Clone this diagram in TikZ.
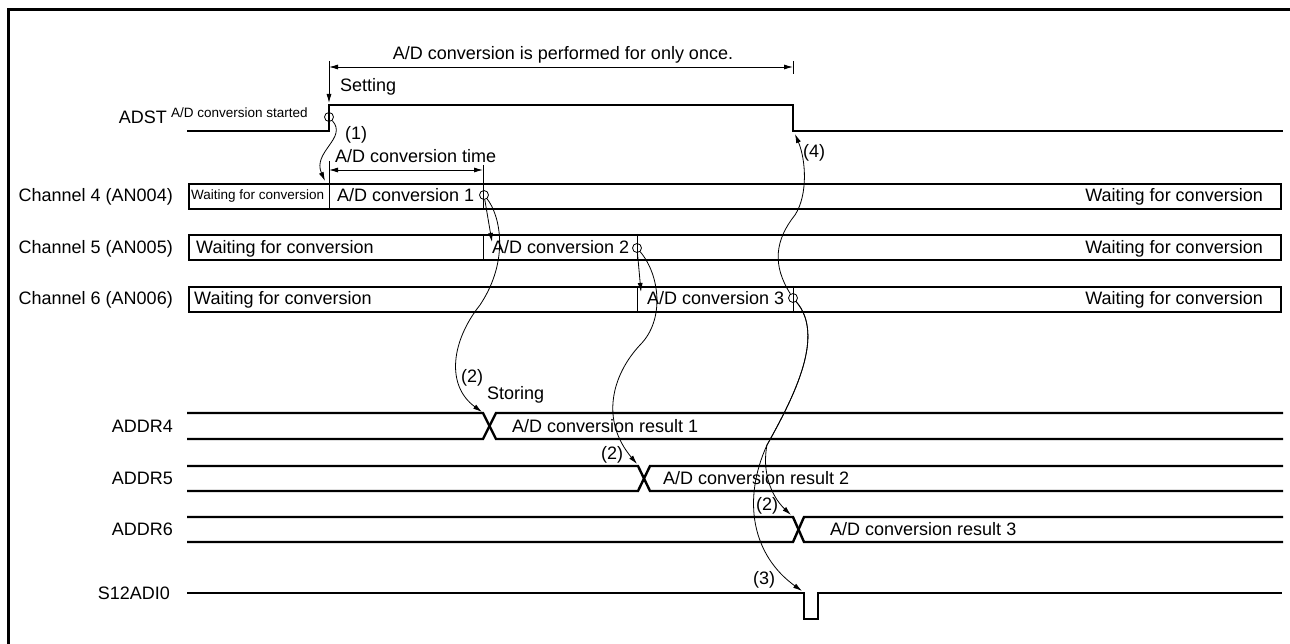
\documentclass[tikz,border=0pt]{standalone}
\usepackage{fontspec}
\setmainfont{Liberation Sans}
\usetikzlibrary{arrows.meta,positioning}
\tikzset{
  sigline/.style={line width=2.4pt, line join=miter},
  thinline/.style={line width=0.8pt},
  chbox/.style={draw, line width=2.4pt, minimum height=25pt,
    minimum width=1092pt, inner sep=0pt, anchor=north west},
  txt/.style={font=\fontsize{18}{20}\selectfont, inner sep=0pt},
  smalltxt/.style={font=\fontsize{13.5}{15}\selectfont, inner sep=0pt},
  dot/.style={draw, circle, line width=0.8pt, minimum size=9pt, inner sep=0pt},
  arr/.style={-{Latex[length=9pt,width=5pt]}, line width=0.8pt},
  darr/.style={{Latex[length=9pt,width=5pt]}-{Latex[length=9pt,width=5pt]}, line width=0.8pt},
}

\begin{document}
\begin{tikzpicture}[x=1pt,y=-1pt]
  \useasboundingbox (0,0) rectangle (1290,644);
  % frame
  \draw[line width=3pt] (8,644) -- (8,10) -- (1290,10);

  % ADST
  \node[txt, anchor=base east] (adst) at (167,123.5) {ADST};
  \node[smalltxt, anchor=base west] (started) at (171,118) {A/D conversion started};
  \draw[sigline] (187,131) -- (329,131) -- (329,105) -- (793,105) -- (793,131) -- (1283,131);
  \node[dot] (c0) at (329,117) {};

  % once / setting
  \coordinate (dimL) at (329,67);
  \coordinate (dimR) at (793,67);
  \coordinate (setTop) at (329,61);
  \coordinate (setBot) at (329,103);
  \draw[darr] (dimL) -- (dimR);
  \draw[thinline] (793,61) -- (793,74);
  \draw[arr] (setTop) -- (setBot);
  \node[txt, anchor=base] (once) at (563,59.5) {A/D conversion is performed for only once.};
  \node[txt, anchor=base west] (setting) at (340,91.5) {Setting};

  % conversion time
  \coordinate (timeL) at (329,170);
  \coordinate (timeR) at (483,170);
  \draw[darr] (timeL) -- (timeR);
  \draw[thinline] (483,165) -- (483,183);
  \node[txt, anchor=base west] (convtime) at (335,162.5) {A/D conversion time};
  \node[txt, anchor=base west] (n1) at (345,139.7) {(1)};

  % Channel 4
  \node[txt, anchor=base east] (ch4lbl) at (173,201.5) {Channel 4 (AN004)};
  \node[chbox] (ch4) at (188,183) {};
  \draw[thinline] (329,161) -- (329,208);
  \draw[thinline] (483,183) -- (483,208);
  \node[smalltxt, anchor=base west] (ch4w) at (191,200) {Waiting for conversion};
  \node[txt, anchor=base west] (ch4c) at (337,201.5) {A/D conversion 1};
  \node[txt, anchor=base east] (ch4r) at (1263,201.5) {Waiting for conversion};
  \node[dot] (c1) at (484,195) {};

  % Channel 5
  \node[txt, anchor=base east] (ch5lbl) at (173,253.5) {Channel 5 (AN005)};
  \node[chbox] (ch5) at (188,234) {};
  \draw[thinline] (483,234) -- (483,259);
  \draw[thinline] (637,234) -- (637,259);
  \node[txt, anchor=base west] (ch5w) at (196,253.5) {Waiting for conversion};
  \node[txt, anchor=base west] (ch5c) at (492,253.5) {A/D conversion 2};
  \node[txt, anchor=base east] (ch5r) at (1263,253.5) {Waiting for conversion};
  \node[dot] (c2) at (637,248) {};

  % Channel 6
  \node[txt, anchor=base east] (ch6lbl) at (173,304.5) {Channel 6 (AN006)};
  \node[chbox] (ch6) at (188,286) {};
  \draw[thinline] (637,286) -- (637,311);
  \draw[thinline] (793,286) -- (793,311);
  \node[txt, anchor=base west] (ch6w) at (194,304.5) {Waiting for conversion};
  \node[txt, anchor=base west] (ch6c) at (647,304.5) {A/D conversion 3};
  \node[txt, anchor=base east] (ch6r) at (1263,304.5) {Waiting for conversion};
  \node[dot] (c3) at (793,298) {};

  % ADDR4
  \node[txt, anchor=base east] (addr4) at (173,432.5) {ADDR4};
  \draw[sigline] (187,413) -- (483,413) -- (496,439) -- (1283,439);
  \draw[sigline] (187,439) -- (483,439) -- (496,413) -- (1283,413);
  \node[txt, anchor=base west] (res1) at (512,432.5) {A/D conversion result 1};
  \node[txt, anchor=base west] (storing) at (487,399.5) {Storing};

  % ADDR5
  \node[txt, anchor=base east] (addr5) at (173,484.5) {ADDR5};
  \draw[sigline] (187,466) -- (638,466) -- (650,491) -- (1283,491);
  \draw[sigline] (187,491) -- (638,491) -- (650,466) -- (1283,466);
  \node[txt, anchor=base west] (res2) at (663,484.5) {A/D conversion result 2};

  % ADDR6
  \node[txt, anchor=base east] (addr6) at (173,535.5) {ADDR6};
  \draw[sigline] (187,517) -- (793,517) -- (804,542) -- (1283,542);
  \draw[sigline] (187,542) -- (793,542) -- (804,517) -- (1283,517);
  \node[txt, anchor=base west] (res3) at (830,535.5) {A/D conversion result 3};

  % S12ADI0
  \node[txt, anchor=base east] (s12) at (170,599.5) {S12ADI0};
  \draw[sigline] (187,593) -- (804,593) -- (804,619) -- (818,619) -- (818,593) -- (1282,593);

  % labels
  \node[txt, anchor=base west] (n2a) at (461,382.7) {(2)};
  \node[txt, anchor=base west] (n2b) at (601,459.7) {(2)};
  \node[txt, anchor=base west] (n2c) at (756,510.7) {(2)};
  \node[txt, anchor=base west] (n3) at (753,584.7) {(3)};
  \node[txt, anchor=base west] (n4) at (803,157.7) {(4)};

  % targets
  \coordinate (a1) at (325,181);
  \coordinate (t5) at (492,242);
  \coordinate (t6) at (641,292);
  \coordinate (a4) at (482,412);
  \coordinate (a5) at (637,464);
  \coordinate (a6) at (791,515);
  \coordinate (p3) at (802,591);
  \coordinate (f4) at (795,134);

  % connectors
  \draw[arr] (c0) .. controls (348,138) and (312,152) .. (a1);
  \draw[arr] (c1) -- (t5);
  \draw[arr] (c2) -- (t6);
  \draw[arr] (c1) .. controls (500,215) and (510,260) .. (480,305)
    .. controls (452,340) and (445,385) .. (a4);
  \draw[arr] (c2) .. controls (660,275) and (665,320) .. (640,345)
    .. controls (612,375) and (600,420) .. (a5);
  \draw[arr] (c3) .. controls (825,335) and (795,395) .. (767,445)
    .. controls (762,470) and (770,495) .. (a6);
  \draw[arr] (c3) .. controls (825,335) and (795,395) .. (767,445)
    .. controls (742,500) and (752,555) .. (p3);
  \draw[arr] (c3) .. controls (772,265) and (775,240) .. (795,215)
    .. controls (808,195) and (806,160) .. (f4);
\end{tikzpicture}
\end{document}
